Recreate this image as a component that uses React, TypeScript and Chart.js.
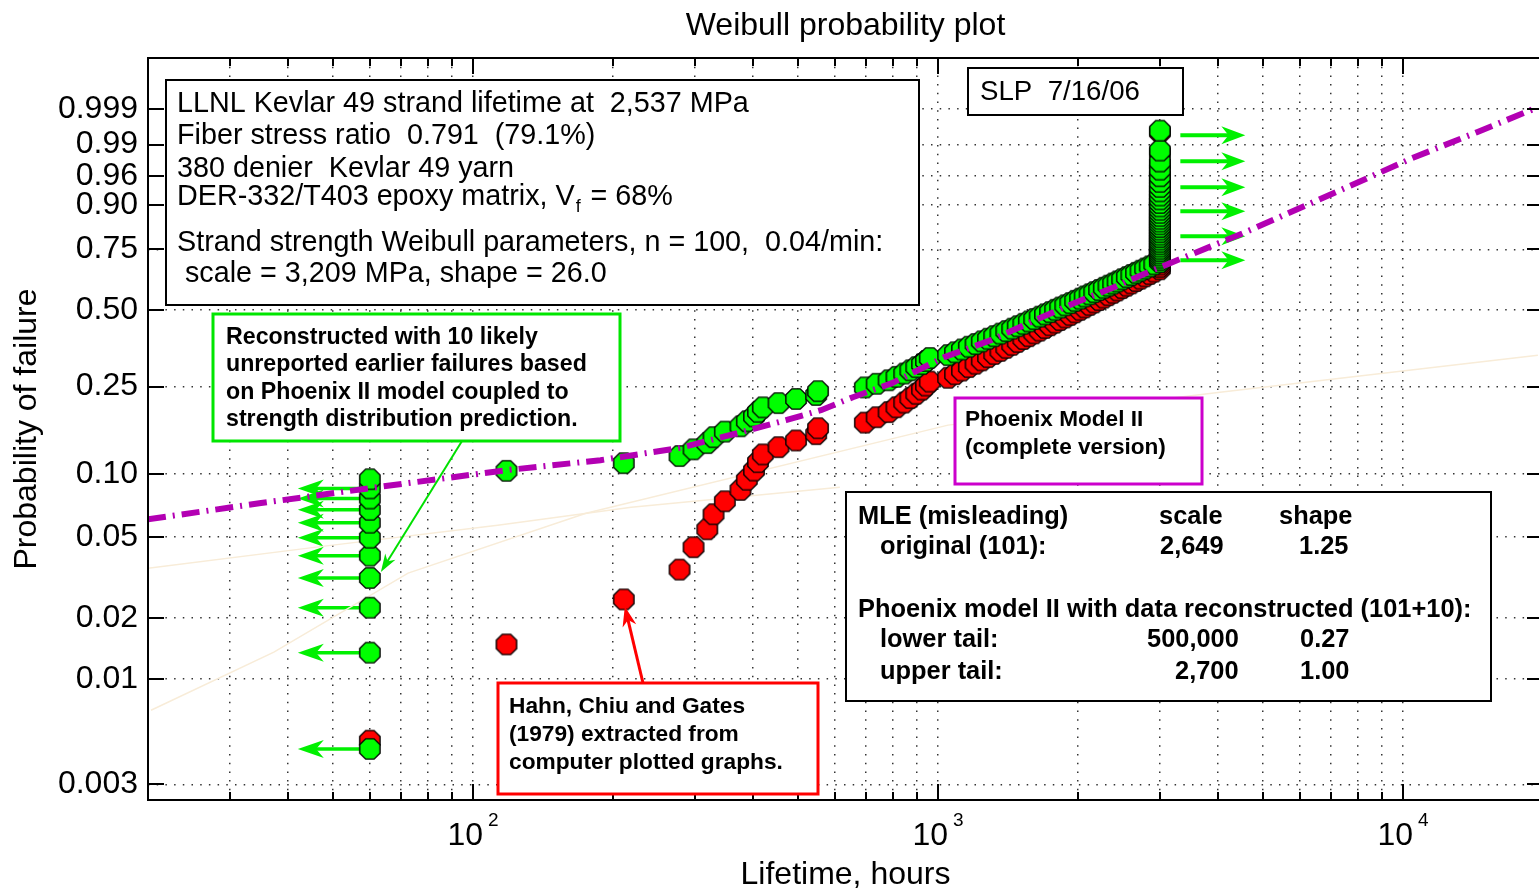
import React, { useEffect, useRef } from 'react';
import { Chart, registerables } from 'chart.js';

Chart.register(...registerables);

const FONT = '"Liberation Sans", Arial, Helvetica, sans-serif';

// ---------------- data ----------------
// Hahn, Chiu and Gates (1979) strand lifetimes in hours (101 strands, sorted)
const lifetimeHours = [
  60, 118, 211,
  278, 298, 319, 329, 348, 376, 388, 402, 410, 420, 454, 495, 547, 552,
  696, 738, 783, 814, 846, 872, 898, 924, 942, 960,
  1051, 1088, 1126, 1165, 1204, 1242, 1281, 1321, 1362, 1402,
  1444, 1484, 1526, 1568, 1610, 1654, 1698, 1742, 1786, 1831,
  1878, 1925, 1972, 2021, 2067, 2118, 2167, 2220, 2272, 2326,
  2380, 2433, 2489, 2547, 2605, 2666, 2726, 2789, 2853, 2918,
  3000, 3000, 3000, 3000, 3000, 3000, 3000, 3000, 3000, 3000,
  3000, 3000, 3000, 3000, 3000, 3000, 3000, 3000, 3000, 3000,
  3000, 3000, 3000, 3000, 3000, 3000, 3000, 3000, 3000, 3000,
  3000, 3000, 3000, 3000,
];
// 10 likely unreported earlier failures (plotted at 60 h, arrows point earlier)
const reconstructedHours = [60, 60, 60, 60, 60, 60, 60, 60, 60, 60];
const arrowTipHours = 42;

// run-out arrows at the upper right
const runoutArrowProbs = [0.9941, 0.9778, 0.9408, 0.8832, 0.8004, 0.706];
const runoutFromHours = 3320;
const runoutToHours = 4580;

// Phoenix Model II (complete version) curve
const modelHours = [20, 35, 60, 118, 188, 277, 371, 471, 560, 656, 796, 1030, 1300, 1616, 1960, 2390, 2900, 4530, 7580, 10460, 14420, 19500];
const modelProbs = [0.0609, 0.0728, 0.0858, 0.1044, 0.1163, 0.1323, 0.1551, 0.1776, 0.1969, 0.2247, 0.2583, 0.3313, 0.3869, 0.4594, 0.5264, 0.5928, 0.6643, 0.8115, 0.9408, 0.9806, 0.99506, 0.99915];

// faint background curves
const faintAHours = [20, 46, 113, 219, 615];
const faintAProbs = [0.0352, 0.0446, 0.057, 0.0696, 0.0867];
const faintBHours = [20.3, 37.3, 72.5, 175, 1051, 4040, 19500];
const faintBProbs = [0.00701, 0.0136, 0.0333, 0.0651, 0.1687, 0.2363, 0.3376];

// axes
const yTickProbs = [0.003, 0.01, 0.02, 0.05, 0.1, 0.25, 0.5, 0.75, 0.9, 0.96, 0.99, 0.999];
const yTickLabels = ['0.003', '0.01', '0.02', '0.05', '0.10', '0.25', '0.50', '0.75', '0.90', '0.96', '0.99', '0.999'];
const xGridHours = [20, 30, 40, 50, 60, 70, 80, 90, 100, 200, 300, 400, 500, 600, 700, 800, 900, 1000, 2000, 3000, 4000, 5000, 6000, 7000, 8000, 9000, 10000, 20000];
const xDecadeHours = [100, 1000, 10000];
const xDecadeExponents = ['2', '3', '4'];
const X_MIN = 20;
const X_MAX = 20000;
const P_MIN = 0.00251;
const P_MAX = 0.999996;

// Weibull probability transform
const wb = (p: number) => Math.log(-Math.log(1 - p));

function makeOctagon(fill: string, r: number) {
  const c = document.createElement('canvas');
  const s = Math.ceil(r * 2 + 4);
  c.width = s;
  c.height = s;
  const g = c.getContext('2d')!;
  g.beginPath();
  for (let k = 0; k < 8; k++) {
    const a = Math.PI / 8 + (k * Math.PI) / 4;
    const px = s / 2 + r * Math.cos(a);
    const py = s / 2 + r * Math.sin(a);
    if (k === 0) g.moveTo(px, py);
    else g.lineTo(px, py);
  }
  g.closePath();
  g.fillStyle = fill;
  g.fill();
  g.lineWidth = 1.4;
  g.strokeStyle = '#000';
  g.stroke();
  return c;
}

function arrow(ctx: CanvasRenderingContext2D, x1: number, y1: number, x2: number, y2: number, color: string, width: number, headLen: number, headW: number) {
  const ang = Math.atan2(y2 - y1, x2 - x1);
  ctx.save();
  ctx.strokeStyle = color;
  ctx.fillStyle = color;
  ctx.lineWidth = width;
  ctx.beginPath();
  ctx.moveTo(x1, y1);
  ctx.lineTo(x2 - Math.cos(ang) * headLen * 0.6, y2 - Math.sin(ang) * headLen * 0.6);
  ctx.stroke();
  ctx.translate(x2, y2);
  ctx.rotate(ang);
  ctx.beginPath();
  ctx.moveTo(0, 0);
  ctx.lineTo(-headLen, -headW / 2);
  ctx.lineTo(-headLen * 0.7, 0);
  ctx.lineTo(-headLen, headW / 2);
  ctx.closePath();
  ctx.fill();
  ctx.restore();
}

function fitSize(ctx: CanvasRenderingContext2D, text: string, width: number, weight: string) {
  ctx.font = `${weight} 100px ${FONT}`;
  return (100 * width) / ctx.measureText(text).width;
}

function drawBox(ctx: CanvasRenderingContext2D, x1: number, y1: number, x2: number, y2: number, color: string, lw: number) {
  ctx.fillStyle = '#fff';
  ctx.fillRect(x1, y1, x2 - x1, y2 - y1);
  ctx.strokeStyle = color;
  ctx.lineWidth = lw;
  ctx.strokeRect(x1, y1, x2 - x1, y2 - y1);
}

function lines(ctx: CanvasRenderingContext2D, items: [string, number, number][], size: number, weight: string) {
  ctx.font = `${weight} ${size}px ${FONT}`;
  ctx.fillStyle = '#000';
  ctx.textAlign = 'left';
  ctx.textBaseline = 'middle';
  items.forEach(([t, x, y]) => ctx.fillText(t, x, y));
}

const decor = {
  id: 'decor',
  beforeDatasetsDraw(chart: any) {
    const { ctx, scales } = chart;
    const x = scales.x;
    const y = scales.y;
    const nG = reconstructedHours.length + lifetimeHours.length;
    reconstructedHours.forEach((h, i) => {
      const py = y.getPixelForValue(wb((i + 0.5) / nG));
      arrow(ctx, x.getPixelForValue(h), py, x.getPixelForValue(arrowTipHours), py, '#00f000', 3.5, 26, 18);
    });
    runoutArrowProbs.forEach((p) => {
      const py = y.getPixelForValue(wb(p));
      arrow(ctx, x.getPixelForValue(runoutFromHours), py, x.getPixelForValue(runoutToHours), py, '#00f000', 4, 24, 18);
    });
  },
  afterDraw(chart: any) {
    const { ctx, chartArea: a, scales } = chart;
    const x = scales.x;
    const y = scales.y;
    ctx.save();
    // frame
    ctx.strokeStyle = '#000';
    ctx.lineWidth = 2;
    ctx.strokeRect(a.left, a.top, a.right - a.left, a.bottom - a.top);
    // inward tick marks
    ctx.lineWidth = 2;
    ctx.beginPath();
    xGridHours.forEach((v) => {
      const px = Math.round(x.getPixelForValue(v));
      const len = xDecadeHours.includes(v) ? 16 : 8;
      ctx.moveTo(px, a.bottom);
      ctx.lineTo(px, a.bottom - len);
      ctx.moveTo(px, a.top);
      ctx.lineTo(px, a.top + len);
    });
    yTickProbs.forEach((p) => {
      const py = Math.round(y.getPixelForValue(wb(p)));
      ctx.moveTo(a.left, py);
      ctx.lineTo(a.left + 16, py);
      ctx.moveTo(a.right, py);
      ctx.lineTo(a.right - 16, py);
    });
    ctx.stroke();
    // x decade labels 10^n
    ctx.fillStyle = '#000';
    ctx.textBaseline = 'middle';
    ctx.textAlign = 'left';
    xDecadeHours.forEach((v, i) => {
      const px = x.getPixelForValue(v);
      ctx.font = `32px ${FONT}`;
      const w10 = ctx.measureText('10').width;
      ctx.font = `19px ${FONT}`;
      const we = ctx.measureText(xDecadeExponents[i]).width;
      const start = px - (w10 + 5 + we) / 2;
      ctx.font = `32px ${FONT}`;
      ctx.fillText('10', start, a.bottom + 36);
      ctx.font = `19px ${FONT}`;
      ctx.fillText(xDecadeExponents[i], start + w10 + 5, a.bottom + 21);
    });

    // pointer: green box -> reconstructed points
    const nG = reconstructedHours.length + lifetimeHours.length;
    const gx = x.getPixelForValue(60) + 11;
    const gy = y.getPixelForValue(wb(3.5 / nG)) - 6;
    arrow(ctx, 462, 441, gx, gy, '#00e000', 2, 18, 12);
    // pointer: red box -> Hahn data
    const rx = x.getPixelForValue(lifetimeHours[2]) + 1;
    const ry = y.getPixelForValue(wb(2.5 / lifetimeHours.length)) + 7;
    arrow(ctx, 643, 683, rx, ry, '#ff0000', 3, 20, 14);

    // main info box
    drawBox(ctx, 166, 80, 919, 305, '#000', 2);
    const l1 = 'LLNL Kevlar 49 strand lifetime at  2,537 MPa';
    const s1 = fitSize(ctx, l1, 572, 'normal');
    lines(ctx, [
      [l1, 177, 104],
      ['Fiber stress ratio  0.791  (79.1%)', 177, 136],
      ['380 denier  Kevlar 49 yarn', 177, 169],
      ['Strand strength Weibull parameters, n = 100,  0.04/min:', 177, 243],
      [' scale = 3,209 MPa, shape = 26.0', 177, 274],
    ], s1, 'normal');
    const l4a = 'DER-332/T403 epoxy matrix, V';
    ctx.font = `normal ${s1}px ${FONT}`;
    ctx.fillText(l4a, 177, 197);
    const wA = ctx.measureText(l4a).width;
    ctx.font = `normal ${s1 * 0.62}px ${FONT}`;
    ctx.fillText('f', 177 + wA + 1, 207);
    const wf = ctx.measureText('f').width;
    ctx.font = `normal ${s1}px ${FONT}`;
    ctx.fillText(' = 68%', 177 + wA + wf + 3, 197);

    // SLP box
    drawBox(ctx, 968, 68, 1183, 115, '#000', 2);
    lines(ctx, [['SLP  7/16/06', 980, 92]], fitSize(ctx, 'SLP  7/16/06', 160, 'normal'), 'normal');

    // green box
    drawBox(ctx, 213, 314, 620, 441, '#00e600', 3);
    const g2 = 'unreported earlier failures based';
    lines(ctx, [
      ['Reconstructed with 10 likely', 226, 338],
      [g2, 226, 365],
      ['on Phoenix II model coupled to', 226, 393],
      ['strength distribution prediction.', 226, 420],
    ], fitSize(ctx, g2, 361, 'bold'), 'bold');

    // magenta box
    drawBox(ctx, 955, 398, 1202, 484, '#cc00cc', 3);
    const m2 = '(complete version)';
    lines(ctx, [
      ['Phoenix Model II', 965, 420],
      [m2, 965, 448],
    ], fitSize(ctx, m2, 201, 'bold'), 'bold');

    // red box
    drawBox(ctx, 498, 683, 818, 794, '#ff0000', 3);
    const r3 = 'computer plotted graphs.';
    lines(ctx, [
      ['Hahn, Chiu and Gates', 509, 707],
      ['(1979) extracted from', 509, 735],
      [r3, 509, 763],
    ], fitSize(ctx, r3, 274, 'bold'), 'bold');

    // MLE box
    drawBox(ctx, 846, 492, 1491, 701, '#000', 2);
    const p1 = 'Phoenix model II with data reconstructed (101+10):';
    lines(ctx, [
      ['MLE (misleading)', 858, 517],
      ['scale', 1159, 517],
      ['shape', 1279, 517],
      ['original (101):', 880, 547],
      ['2,649', 1160, 547],
      ['1.25', 1299, 547],
      [p1, 858, 610],
      ['lower tail:', 880, 640],
      ['500,000', 1147, 640],
      ['0.27', 1300, 640],
      ['upper tail:', 880, 672],
      ['2,700', 1175, 672],
      ['1.00', 1300, 672],
    ], fitSize(ctx, p1, 614, 'bold'), 'bold');

    ctx.restore();
  },
};

export default function App() {
  const ref = useRef<HTMLCanvasElement>(null);
  useEffect(() => {
    const canvas = ref.current!;
    const greenOct = makeOctagon('#00ff00', 11);
    const redOct = makeOctagon('#ff0000', 11);
    const greenHours = [...reconstructedHours, ...lifetimeHours];
    const nG = greenHours.length;
    const nR = lifetimeHours.length;
    // Weibull plotting positions (i - 0.5) / n
    const greenData = greenHours.map((h, i) => ({ x: h, y: wb((i + 0.5) / nG) }));
    const redData = lifetimeHours.map((h, i) => ({ x: h, y: wb((i + 0.5) / nR) }));
    const modelData = modelHours.map((h, i) => ({ x: h, y: wb(modelProbs[i]) }));
    const faintA = faintAHours.map((h, i) => ({ x: h, y: wb(faintAProbs[i]) }));
    const faintB = faintBHours.map((h, i) => ({ x: h, y: wb(faintBProbs[i]) }));

    const gridDash = [1.5, 7.2];
    const chart = new Chart(canvas, {
      type: 'scatter',
      data: {
        datasets: [
          {
            label: 'Phoenix Model II',
            data: modelData,
            showLine: true,
            borderColor: '#b300b3',
            borderWidth: 6,
            borderDash: [18, 7, 2, 7],
            borderCapStyle: 'butt',
            pointRadius: 0,
            order: 0,
          } as any,
          {
            label: 'Reconstructed (101+10)',
            data: greenData,
            pointStyle: greenOct as any,
            pointRadius: 11,
            order: 1,
          },
          {
            label: 'Hahn, Chiu and Gates (1979)',
            data: redData,
            pointStyle: redOct as any,
            pointRadius: 11,
            order: 2,
          },
          {
            label: 'faint A',
            data: faintA,
            showLine: true,
            borderColor: '#f8ecd8',
            borderWidth: 1.5,
            pointRadius: 0,
            order: 5,
          } as any,
          {
            label: 'faint B',
            data: faintB,
            showLine: true,
            borderColor: '#f8ecd8',
            borderWidth: 1.5,
            pointRadius: 0,
            order: 6,
          } as any,
        ],
      },
      options: {
        responsive: false,
        animation: false,
        devicePixelRatio: 1,
        layout: { autoPadding: false, padding: { left: 0, right: 2, top: 0, bottom: 0 } },
        plugins: {
          legend: { display: false },
          tooltip: { enabled: false },
          title: {
            display: true,
            text: 'Weibull probability plot',
            fullSize: false,
            color: '#000',
            font: { family: FONT, size: 32, weight: 'normal' },
            padding: { top: 6.8, bottom: 12.8 },
          },
        },
        scales: {
          x: {
            type: 'logarithmic',
            min: X_MIN,
            max: X_MAX,
            afterBuildTicks: (s: any) => {
              s.ticks = xGridHours.map((v) => ({ value: v }));
            },
            afterFit: (s: any) => {
              s.height = 94;
            },
            ticks: { display: false, autoSkip: false },
            grid: { color: 'rgba(0,0,0,0.8)', lineWidth: 1.5, drawTicks: false },
            border: { display: false, dash: gridDash },
            title: {
              display: true,
              text: 'Lifetime, hours',
              color: '#000',
              font: { family: FONT, size: 32 },
              padding: { top: 0, bottom: 0 },
            },
          },
          y: {
            type: 'linear',
            min: wb(P_MIN),
            max: wb(P_MAX),
            afterBuildTicks: (s: any) => {
              s.ticks = yTickProbs.map((p) => ({ value: wb(p) }));
            },
            afterFit: (s: any) => {
              s.width = 148;
            },
            ticks: {
              autoSkip: false,
              padding: 10,
              color: '#000',
              font: { family: FONT, size: 32 },
              callback: (_v: any, i: number) => yTickLabels[i],
            },
            grid: { color: 'rgba(0,0,0,0.8)', lineWidth: 1.5, drawTicks: false },
            border: { display: false, dash: gridDash },
            title: {
              display: true,
              text: 'Probability of failure',
              color: '#000',
              font: { family: FONT, size: 32 },
              padding: { top: 8, bottom: 0 },
            },
          },
        },
      } as any,
      plugins: [decor],
    });
    return () => chart.destroy();
  }, []);

  return (
    <div style={{ position: 'fixed', left: 0, top: 0, width: 1539, height: 889, overflow: 'hidden', background: '#fff' }}>
      <canvas ref={ref} width={1545} height={894} style={{ display: 'block' }} />
    </div>
  );
}
